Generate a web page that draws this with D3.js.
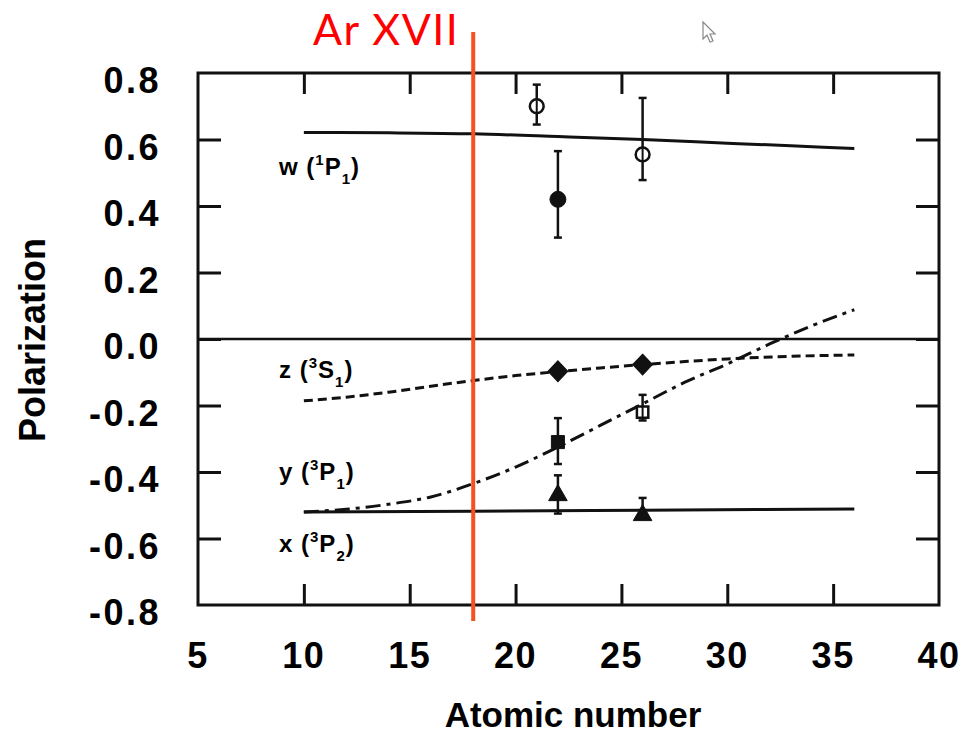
<!DOCTYPE html>
<html>
<head>
<meta charset="utf-8">
<script src="https://cdn.jsdelivr.net/npm/d3@7"></script>
<style>
  body { margin: 0; background: #fff; }
  svg { display: block; }
</style>
</head>
<body>
<svg id="chart" width="969" height="737"></svg>
<script>
// theory curves: [Z, polarization]
const wCurve = [[10, 0.621], [14, 0.62], [18, 0.617], [22, 0.609], [26, 0.6], [30, 0.589], [33, 0.581], [36, 0.573]];
const zCurve = [[10, -0.186], [12, -0.175], [14, -0.16], [16, -0.142], [18, -0.125], [20, -0.11], [22, -0.098], [24, -0.087], [26, -0.077], [28, -0.068], [30, -0.06], [33, -0.052], [36, -0.048]];
const yCurve = [[10, -0.52], [12, -0.512], [14, -0.497], [16, -0.475], [18, -0.435], [20, -0.385], [22, -0.325], [24, -0.26], [26, -0.195], [28, -0.13], [30, -0.075], [32, -0.015], [34, 0.04], [36, 0.088]];
const xCurve = [[10, -0.52], [18, -0.518], [26, -0.515], [36, -0.511]];

// measurements: Z, value, lower, upper, symbol
const wPoints = [
  {z: 21, v: 0.70, lo: 0.645, hi: 0.765, sym: "circleOpen"},
  {z: 22, v: 0.42, lo: 0.305, hi: 0.565, sym: "circle"},
  {z: 26, v: 0.555, lo: 0.478, hi: 0.725, sym: "circleOpen"}
];
const zPoints = [
  {z: 22, v: -0.097, sym: "diamond"},
  {z: 26, v: -0.077, sym: "diamond"}
];
const yPoints = [
  {z: 22, v: -0.31, lo: -0.376, hi: -0.238, sym: "square"},
  {z: 26, v: -0.22, lo: -0.245, hi: -0.168, sym: "squareOpen"}
];
const xPoints = [
  {z: 22, v: -0.47, lo: -0.525, hi: -0.41, sym: "triangle"},
  {z: 26, v: -0.53, lo: -0.53, hi: -0.478, sym: "triangle"}
];

const xTicks = [5, 10, 15, 20, 25, 30, 35, 40];
const yTicks = [0.8, 0.6, 0.4, 0.2, 0.0, -0.2, -0.4, -0.6, -0.8];
const lineLabels = [
  {letter: "w", sup: "1", base: "P", sub: "1", baseline: 175},
  {letter: "z", sup: "3", base: "S", sub: "1", baseline: 378},
  {letter: "y", sup: "3", base: "P", sub: "1", baseline: 480},
  {letter: "x", sup: "3", base: "P", sub: "2", baseline: 552}
];
const markerZ = 18;
const markerName = "Ar XVII";

const svg = d3.select("#chart");
const x = d3.scaleLinear().domain([5, 40]).range([198, 939]);
const y = d3.scaleLinear().domain([-0.8, 0.8]).range([605, 73]);
const font = "'Liberation Sans', Arial, sans-serif";

// frame
svg.append("rect")
  .attr("x", x(5)).attr("y", y(0.8))
  .attr("width", x(40) - x(5)).attr("height", y(-0.8) - y(0.8))
  .attr("fill", "none").attr("stroke", "#111").attr("stroke-width", 3);

// axes (ticks pointing inward)
const innerX = xTicks.filter(d => d > 5 && d < 40);
const innerY = yTicks.filter(d => d > -0.8 && d < 0.8);
const tl = 21;
svg.append("g").attr("transform", `translate(0,${y(-0.8)})`)
  .call(d3.axisBottom(x).tickValues(innerX).tickSizeInner(-tl).tickSizeOuter(0).tickFormat(""))
  .call(g => g.select(".domain").remove());
svg.append("g").attr("transform", `translate(0,${y(0.8)})`)
  .call(d3.axisTop(x).tickValues(innerX).tickSizeInner(-tl).tickSizeOuter(0).tickFormat(""))
  .call(g => g.select(".domain").remove());
svg.append("g").attr("transform", `translate(${x(5)},0)`)
  .call(d3.axisLeft(y).tickValues(innerY).tickSizeInner(-tl - 2).tickSizeOuter(0).tickFormat(""))
  .call(g => g.select(".domain").remove());
svg.append("g").attr("transform", `translate(${x(40)},0)`)
  .call(d3.axisRight(y).tickValues(innerY).tickSizeInner(-tl - 2).tickSizeOuter(0).tickFormat(""))
  .call(g => g.select(".domain").remove());
svg.selectAll(".tick line").attr("stroke", "#111").attr("stroke-width", 3);

// tick labels
svg.append("g").selectAll("text").data(xTicks).join("text")
  .attr("x", d => x(d)).attr("y", 668)
  .attr("text-anchor", "middle")
  .attr("font-family", font).attr("font-weight", "bold").attr("font-size", 36)
  .attr("letter-spacing", 1.5)
  .text(d => d);
svg.append("g").selectAll("text").data(yTicks).join("text")
  .attr("x", 161).attr("y", d => y(d) + 20)
  .attr("text-anchor", "end")
  .attr("font-family", font).attr("font-weight", "bold").attr("font-size", 36)
  .attr("letter-spacing", 2.5)
  .text(d => d3.format(".1f")(d).replace("−", "-"));

// axis titles
svg.append("text")
  .attr("x", 573).attr("y", 727).attr("text-anchor", "middle")
  .attr("font-family", font).attr("font-weight", "bold").attr("font-size", 35)
  .text("Atomic number");
svg.append("text")
  .attr("transform", "translate(45,340) rotate(-90)").attr("text-anchor", "middle")
  .attr("font-family", font).attr("font-weight", "bold").attr("font-size", 36)
  .text("Polarization");

// zero line
svg.append("line")
  .attr("x1", x(5)).attr("x2", x(40)).attr("y1", y(0)).attr("y2", y(0))
  .attr("stroke", "#111").attr("stroke-width", 2.5);

// curves
const line = d3.line().x(d => x(d[0])).y(d => y(d[1])).curve(d3.curveMonotoneX);
const curves = [
  {data: wCurve, dash: null},
  {data: xCurve, dash: null},
  {data: zCurve, dash: "9,5"},
  {data: yCurve, dash: "15,6,4,6"}
];
svg.append("g").selectAll("path").data(curves).join("path")
  .attr("d", d => line(d.data))
  .attr("fill", "none").attr("stroke", "#111").attr("stroke-width", 3)
  .attr("stroke-dasharray", d => d.dash);

// error bars and symbols
const allPoints = [].concat(wPoints, zPoints, yPoints, xPoints);
const bars = svg.append("g").selectAll("g").data(allPoints.filter(d => d.lo !== undefined)).join("g")
  .attr("stroke", "#111").attr("stroke-width", 2.5);
bars.append("line")
  .attr("x1", d => x(d.z)).attr("x2", d => x(d.z))
  .attr("y1", d => y(d.lo)).attr("y2", d => y(d.hi));
bars.append("line")
  .attr("x1", d => x(d.z) - 4).attr("x2", d => x(d.z) + 4)
  .attr("y1", d => y(d.hi)).attr("y2", d => y(d.hi));
bars.filter(d => d.lo !== d.v).append("line")
  .attr("x1", d => x(d.z) - 4).attr("x2", d => x(d.z) + 4)
  .attr("y1", d => y(d.lo)).attr("y2", d => y(d.lo));

const symType = {
  circle: d3.symbolCircle, circleOpen: d3.symbolCircle,
  square: d3.symbolSquare, squareOpen: d3.symbolSquare,
  diamond: d3.symbolDiamond, triangle: d3.symbolTriangle
};
const symSize = {circle: 200, circleOpen: 150, square: 170, squareOpen: 130, diamond: 170, triangle: 150};
svg.append("g").selectAll("path").data(allPoints).join("path")
  .attr("transform", d => {
    const sx = d.sym === "diamond" ? "scale(1.4,0.85)" : "";
    return `translate(${x(d.z)},${y(d.v)}) ${sx}`;
  })
  .attr("d", d => d3.symbol(symType[d.sym], symSize[d.sym])())
  .attr("fill", d => d.sym.endsWith("Open") ? "#fff" : "#111")
  .attr("stroke", "#111")
  .attr("stroke-width", d => d.sym.endsWith("Open") ? 2.5 : 1);
// vertical stroke through open markers, as in the scan
svg.append("g").selectAll("line").data(allPoints.filter(d => d.sym.endsWith("Open"))).join("line")
  .attr("x1", d => x(d.z)).attr("x2", d => x(d.z))
  .attr("y1", d => y(d.v) - 6).attr("y2", d => y(d.v) + 6)
  .attr("stroke", "#111").attr("stroke-width", 2);

// line labels
const lab = svg.append("g").selectAll("text").data(lineLabels).join("text")
  .attr("x", 279)
  .attr("y", d => d.baseline)
  .attr("font-family", font).attr("font-weight", "bold").attr("font-size", 24)
  .attr("letter-spacing", 1);
lab.append("tspan").text(d => d.letter + " (");
lab.append("tspan").attr("dy", -10).attr("font-size", 15).text(d => d.sup);
lab.append("tspan").attr("dy", 10).text(d => d.base);
lab.append("tspan").attr("dy", 9).attr("font-size", 15).text(d => d.sub);
lab.append("tspan").attr("dy", -9).text(")");

// Ar XVII marker
svg.append("line")
  .attr("x1", x(markerZ)).attr("x2", x(markerZ))
  .attr("y1", 32).attr("y2", 621)
  .attr("stroke", "#f4511e").attr("stroke-width", 4);
svg.append("text")
  .attr("x", 313).attr("y", 45)
  .attr("font-family", "Lato, 'Open Sans', sans-serif").attr("font-size", 43)
  .attr("letter-spacing", 1.5)
  .attr("fill", "#ff0000")
  .text(markerName);

// mouse pointer in the screenshot
svg.append("path")
  .attr("d", "M703,22 L703,39 L707,35 L710,42 L713,41 L710,34 L715,34 Z")
  .attr("fill", "#fff").attr("stroke", "#888").attr("stroke-width", 1.2);
</script>
</body>
</html>
